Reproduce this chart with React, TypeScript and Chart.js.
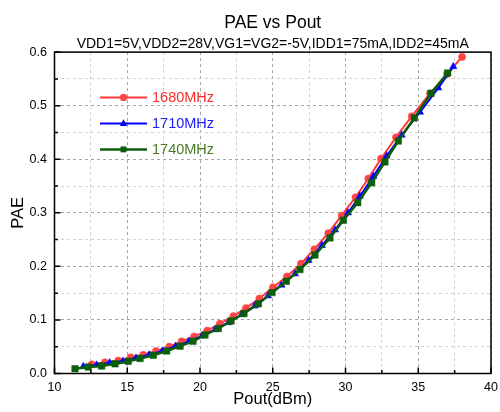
import React, { useEffect, useRef } from 'react';
import { Chart, registerables } from 'chart.js';

Chart.register(...registerables);

const FONT = "'Liberation Sans', Arial, Helvetica, sans-serif";

// ---- data ----
const pout1680 = [12.56, 13.47, 14.38, 15.24, 16.10, 16.98, 17.89, 18.74, 19.59, 20.50, 21.37, 22.29, 23.16, 24.08, 25.02, 25.98, 26.94, 27.86, 28.82, 29.74, 30.69, 31.57, 32.44, 33.47, 34.55, 35.81, 36.98, 38.01];
const pae1680 = [0.017, 0.021, 0.024, 0.030, 0.035, 0.042, 0.050, 0.060, 0.069, 0.080, 0.093, 0.107, 0.122, 0.140, 0.161, 0.181, 0.205, 0.232, 0.262, 0.295, 0.329, 0.364, 0.401, 0.441, 0.480, 0.523, 0.559, 0.591];

const pout1710 = [11.98, 12.89, 13.79, 14.70, 15.60, 16.51, 17.42, 18.32, 19.23, 20.14, 21.04, 21.95, 22.85, 23.76, 24.67, 25.60, 26.53, 27.46, 28.38, 29.28, 30.17, 30.99, 31.91, 32.83, 33.86, 35.12, 36.38, 37.41];
const pae1710 = [0.013, 0.016, 0.020, 0.023, 0.029, 0.035, 0.042, 0.051, 0.060, 0.070, 0.082, 0.095, 0.110, 0.126, 0.145, 0.165, 0.186, 0.211, 0.239, 0.268, 0.300, 0.331, 0.368, 0.406, 0.445, 0.488, 0.533, 0.573];

const pout1740 = [11.41, 12.32, 13.24, 14.16, 15.07, 15.88, 16.79, 17.71, 18.63, 19.52, 20.34, 21.26, 22.13, 23.02, 24.01, 24.95, 25.93, 26.87, 27.90, 28.93, 29.85, 30.84, 31.80, 32.71, 33.63, 34.73, 35.88, 37.02];
const pae1740 = [0.009, 0.012, 0.014, 0.018, 0.023, 0.028, 0.034, 0.042, 0.051, 0.060, 0.072, 0.084, 0.098, 0.112, 0.130, 0.151, 0.172, 0.194, 0.221, 0.253, 0.286, 0.319, 0.356, 0.395, 0.434, 0.477, 0.523, 0.561];

const seriesLabels = ['1680MHz', '1710MHz', '1740MHz'];
const titleText = 'PAE vs Pout';
const subtitleText = 'VDD1=5V,VDD2=28V,VG1=VG2=-5V,IDD1=75mA,IDD2=45mA';
const xTitle = 'Pout(dBm)';
const yTitle = 'PAE';

const X_MIN = 10, X_MAX = 40, X_STEP = 2.5, X_MAJOR = 5;
const Y_MIN = 0, Y_MAX = 0.6, Y_STEP = 0.05, Y_MAJOR = 0.1;

const toPoints = (xs: number[], ys: number[]) => xs.map((x, i) => ({ x, y: ys[i] }));
const isMajor = (v: number, major: number) => Math.abs(v / major - Math.round(v / major)) < 1e-6;

const gridColor = (major: number) => (c: any) =>
  c.tick && isMajor(c.tick.value, major) ? '#a6a6a6' : '#d2d2d2';

const frameTicksPlugin = {
  id: 'frameTicks',
  afterDatasetsDraw(chart: any) {
    const { ctx, chartArea, scales } = chart;
    const { left, right, top, bottom } = chartArea;
    const xs = scales.x, ys = scales.y;
    ctx.save();
    ctx.strokeStyle = '#000';
    ctx.lineWidth = 1.5;
    ctx.beginPath();
    xs.ticks.forEach((t: any) => {
      const px = xs.getPixelForValue(t.value);
      const len = isMajor(t.value, X_MAJOR) ? 6 : 3.5;
      ctx.moveTo(px, bottom);
      ctx.lineTo(px, bottom - len);
    });
    ys.ticks.forEach((t: any) => {
      const py = ys.getPixelForValue(t.value);
      const len = isMajor(t.value, Y_MAJOR) ? 6 : 3.5;
      ctx.moveTo(left, py);
      ctx.lineTo(left + len, py);
    });
    ctx.stroke();
    ctx.strokeRect(left, top, right - left, bottom - top);
    ctx.restore();
  },
};

function drawMarker(ctx: CanvasRenderingContext2D, style: string, x: number, y: number, r: number, color: string) {
  ctx.fillStyle = color;
  ctx.beginPath();
  if (style === 'circle') {
    ctx.arc(x, y, r, 0, Math.PI * 2);
  } else if (style === 'triangle') {
    const h = r * 1.5;
    ctx.moveTo(x, y - r);
    ctx.lineTo(x + h * 0.577, y + r * 0.5 + 0.5);
    ctx.lineTo(x - h * 0.577, y + r * 0.5 + 0.5);
    ctx.closePath();
  } else {
    const s = r * Math.SQRT1_2;
    ctx.rect(x - s, y - s, 2 * s, 2 * s);
  }
  ctx.fill();
}

const legendPlugin = {
  id: 'originLegend',
  afterDraw(chart: any) {
    const { ctx, chartArea } = chart;
    const { left, top } = chartArea;
    ctx.save();
    chart.data.datasets.forEach((ds: any, i: number) => {
      const y = top + 45.3 + i * 26;
      const x0 = left + 45.5, x1 = left + 92.5;
      ctx.strokeStyle = ds.borderColor;
      ctx.lineWidth = ds.borderWidth;
      ctx.beginPath();
      ctx.moveTo(x0, y);
      ctx.lineTo(x1, y);
      ctx.stroke();
      drawMarker(ctx, ds.pointStyle, (x0 + x1) / 2, y, ds.legendMarkerRadius, ds.pointBackgroundColor);
      ctx.fillStyle = ds.legendTextColor;
      ctx.font = `14.5px ${FONT}`;
      ctx.textBaseline = 'middle';
      ctx.textAlign = 'left';
      ctx.fillText(ds.label, left + 97.5, y + 0.5);
    });
    ctx.restore();
  },
};

export default function App() {
  const canvasRef = useRef<HTMLCanvasElement | null>(null);

  useEffect(() => {
    if (!canvasRef.current) return;
    Chart.defaults.font.family = FONT;
    const chart = new Chart(canvasRef.current, {
      type: 'line',
      data: {
        datasets: [
          {
            label: seriesLabels[0],
            data: toPoints(pout1680, pae1680),
            borderColor: '#ff3636',
            backgroundColor: '#ff4444',
            pointBackgroundColor: '#ff4444',
            pointBorderColor: '#ff4444',
            pointStyle: 'circle',
            pointRadius: 3.6,
            pointBorderWidth: 0.5,
            borderWidth: 2,
            order: 2,
            legendTextColor: '#ff2a2a',
            legendMarkerRadius: 3.6,
          } as any,
          {
            label: seriesLabels[1],
            data: toPoints(pout1710, pae1710),
            borderColor: '#0000ff',
            backgroundColor: '#0000ff',
            pointBackgroundColor: '#0000ff',
            pointBorderColor: '#0000ff',
            pointStyle: 'triangle',
            pointRadius: 4.2,
            pointBorderWidth: 0.5,
            borderWidth: 2,
            order: 1,
            legendTextColor: '#1a1aff',
            legendMarkerRadius: 4.2,
          } as any,
          {
            label: seriesLabels[2],
            data: toPoints(pout1740, pae1740),
            borderColor: '#0b5e0b',
            backgroundColor: '#0b5e0b',
            pointBackgroundColor: '#0b5e0b',
            pointBorderColor: '#0b5e0b',
            pointStyle: 'rect',
            pointRadius: 4.6,
            pointBorderWidth: 0.5,
            borderWidth: 2.5,
            order: 0,
            legendTextColor: '#4a7a22',
            legendMarkerRadius: 4.2,
          } as any,
        ],
      },
      options: {
        animation: false,
        responsive: false,
        devicePixelRatio: 1,
        layout: { padding: { left: 0, right: 9, top: 12.2, bottom: 0 } },
        plugins: {
          legend: { display: false },
          tooltip: { enabled: false },
          title: {
            display: true,
            text: titleText,
            fullSize: false,
            color: '#000',
            font: { size: 17.5, weight: 'normal', family: FONT },
            padding: { top: 0, bottom: 0 },
          },
          subtitle: {
            display: true,
            text: subtitleText,
            fullSize: false,
            color: '#000',
            font: { size: 14, weight: 'normal', family: FONT },
            padding: { top: 2.1, bottom: 0 },
          },
        },
        scales: {
          x: {
            type: 'linear',
            min: X_MIN,
            max: X_MAX,
            ticks: {
              stepSize: X_STEP,
              autoSkip: false,
              maxRotation: 0,
              padding: 7,
              color: '#000',
              font: { size: 12.5 },
              callback: (v: any) => (isMajor(Number(v), X_MAJOR) ? String(Math.round(Number(v))) : ''),
            },
            grid: { color: gridColor(X_MAJOR), lineWidth: 1, drawTicks: false },
            border: { display: false, dash: [3, 3] },
            title: {
              display: true,
              text: xTitle,
              color: '#000',
              font: { size: 16.5 },
              padding: { top: 0, bottom: 3 },
            },
            afterFit: (s: any) => {
              s.height = 38.5;
              s.paddingLeft = 0;
              s.paddingRight = 0;
            },
          },
          y: {
            type: 'linear',
            min: Y_MIN,
            max: Y_MAX,
            ticks: {
              stepSize: Y_STEP,
              autoSkip: false,
              padding: 7.5,
              color: '#000',
              font: { size: 12.5 },
              callback: (v: any) => (isMajor(Number(v), Y_MAJOR) ? Number(v).toFixed(1) : ''),
            },
            grid: { color: gridColor(Y_MAJOR), lineWidth: 1, drawTicks: false },
            border: { display: false, dash: [3, 3] },
            title: {
              display: true,
              text: yTitle,
              color: '#000',
              font: { size: 16.5 },
              padding: { top: 9, bottom: 0 },
            },
            afterFit: (s: any) => {
              s.width = 54.5;
              s.paddingTop = 0;
              s.paddingBottom = 0;
            },
          },
        },
      } as any,
      plugins: [frameTicksPlugin, legendPlugin],
    });
    return () => chart.destroy();
  }, []);

  return (
    <div style={{ position: 'fixed', left: 0, top: 0, width: 500, height: 412, background: '#fff' }}>
      <canvas ref={canvasRef} width={500} height={412} style={{ display: 'block', width: 500, height: 412 }} />
    </div>
  );
}
